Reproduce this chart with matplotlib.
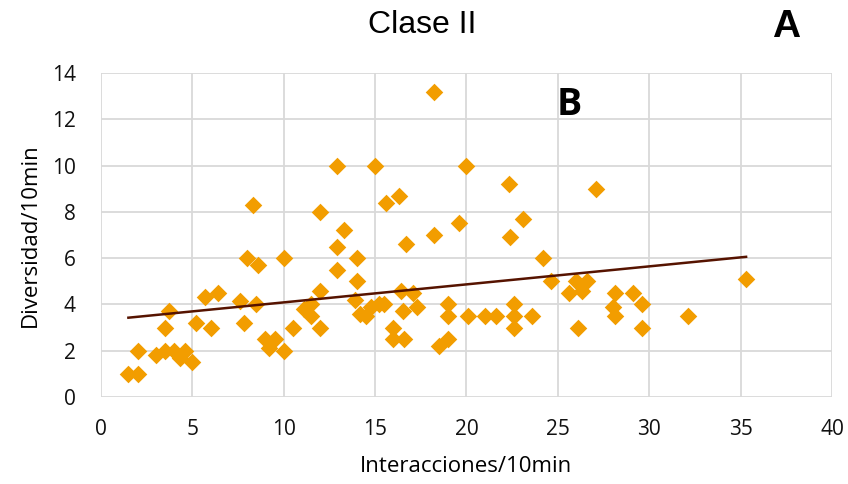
import numpy as np
import matplotlib
matplotlib.use("Agg")
import matplotlib.pyplot as plt

# Interacciones/10min vs Diversidad/10min (Clase II)
interacciones = [1.5, 2.0, 2.0, 3.0, 3.5, 3.5, 3.7, 4.0, 4.3, 4.6,
                 5.0, 5.2, 5.7, 6.0, 6.4, 7.6, 7.8, 8.0, 8.3, 8.6,
                 8.5, 9.0, 9.2, 9.5, 10.0, 10.0, 10.5, 11.1, 11.5, 11.5,
                 12.0, 12.0, 12.0, 12.9, 12.9, 12.9, 13.3, 14.0, 14.0, 13.9,
                 14.2, 14.5, 14.8, 15.2, 15.5, 15.0, 15.6, 16.3, 16.7, 16.4,
                 17.1, 16.5, 17.3, 16.0, 16.0, 16.6, 18.2, 18.2, 18.5, 19.0,
                 19.0, 19.0, 19.6, 20.0, 20.1, 21.0, 21.6, 22.3, 22.4, 22.6,
                 22.6, 22.6, 23.1, 23.6, 24.2, 24.6, 25.6, 26.0, 26.3, 26.6,
                 26.1, 27.1, 28.1, 28.0, 28.1, 29.1, 29.6, 29.6, 32.1, 35.3]
diversidad = [1.0, 1.0, 2.0, 1.8, 2.0, 3.0, 3.7, 2.0, 1.7, 2.0,
              1.5, 3.2, 4.3, 3.0, 4.5, 4.15, 3.2, 6.0, 8.3, 5.7,
              4.0, 2.5, 2.1, 2.5, 2.0, 6.0, 3.0, 3.8, 4.0, 3.5,
              4.6, 3.0, 8.0, 10.0, 6.5, 5.5, 7.2, 6.0, 5.0, 4.2,
              3.6, 3.5, 3.9, 4.0, 4.0, 10.0, 8.4, 8.7, 6.6, 4.6,
              4.5, 3.7, 3.9, 3.0, 2.5, 2.5, 13.2, 7.0, 2.2, 2.5,
              4.0, 3.5, 7.5, 10.0, 3.5, 3.5, 3.5, 9.2, 6.9, 4.0,
              3.5, 3.0, 7.7, 3.5, 6.0, 5.0, 4.5, 5.0, 4.6, 5.0,
              3.0, 9.0, 4.5, 3.9, 3.5, 4.5, 4.0, 3.0, 3.5, 5.1]

x_ticks = [0, 5, 10, 15, 20, 25, 30, 35, 40]
y_ticks = [0, 2, 4, 6, 8, 10, 12, 14]

x = np.array(interacciones)
y = np.array(diversidad)
slope, intercept = np.polyfit(x, y, 1)
xl = np.array([x.min(), x.max()])

fig = plt.figure(figsize=(8.48, 4.84), dpi=100)
ax = fig.add_axes([0.1191, 0.1798, 0.8620, 0.6694])

ax.scatter(x, y, marker="D", s=80, color="#f29d00", linewidths=0, zorder=3)
ax.plot(xl, slope * xl + intercept, color="#561300", lw=1.8, zorder=4)

ax.set_xlim(0, 40)
ax.set_ylim(0, 14)
ax.set_xticks(x_ticks)
ax.set_yticks(y_ticks)
ax.grid(True, color="#d9d9d9", lw=1.3, zorder=0)
ax.set_axisbelow(True)
for s in ax.spines.values():
    s.set_visible(False)
ax.tick_params(length=0, labelsize=15, labelcolor="#111111")
ax.tick_params(axis="x", pad=16)
ax.tick_params(axis="y", pad=18)
for lab in ax.get_xticklabels() + ax.get_yticklabels():
    lab.set_family("Open Sans")

ax.set_xlabel("Interacciones/10min", fontsize=16, family="Open Sans", va="center")
ax.set_ylabel("Diversidad/10min", fontsize=16, family="Open Sans", va="center")
ax.xaxis.set_label_coords(0.5, -0.216)
ax.yaxis.set_label_coords(-0.097, 0.5)

fig.text(0.498, 0.948, "Clase II", ha="center", va="center", fontsize=23,
         family="Liberation Sans")
fig.text(0.927, 0.945, "A", ha="center", va="center", fontsize=28,
         family="Liberation Sans", weight="bold")
ax.text(25.6, 12.6, "B", ha="center", va="center", fontsize=27,
        family="Open Sans", weight="bold")

fig.savefig("out.png", dpi=100)
